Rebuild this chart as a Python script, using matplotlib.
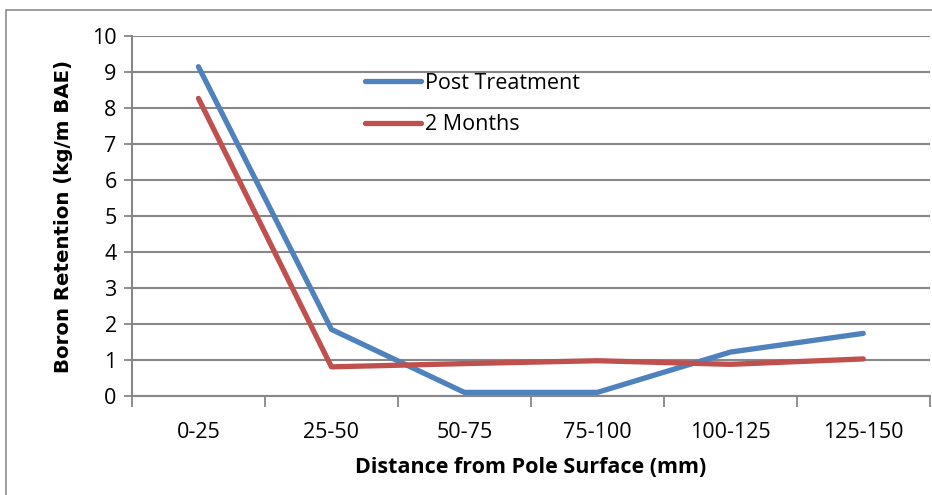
import matplotlib
matplotlib.use('Agg')
import matplotlib.pyplot as plt
from matplotlib.patches import Rectangle

categories = ['0-25', '25-50', '50-75', '75-100', '100-125', '125-150']
post_treatment = [9.15, 1.85, 0.1, 0.1, 1.22, 1.74]
two_months = [8.27, 0.81, 0.9, 0.98, 0.88, 1.03]

blue = '#4F81BD'
red = '#C0504D'
grey = '#878787'

fig = plt.figure(figsize=(9.32, 4.95), dpi=100)
ax = fig.add_axes([0.1416, 0.2, 0.856, 0.727])

# outer chart frame
fig.patches.append(Rectangle((6 / 932, -0.1), 1.2, 1.08, transform=fig.transFigure,
                             fill=False, edgecolor='#8c8c8c', linewidth=1.2))

x = list(range(len(categories)))
ax.plot(x, post_treatment, color=blue, lw=3.8, solid_capstyle='round', label='Post Treatment')
ax.plot(x, two_months, color=red, lw=3.8, solid_capstyle='round', label='2 Months')

ax.set_xlim(-0.5, 5.5)
ax.set_ylim(0, 10)
ax.set_yticks(range(0, 11))
ax.set_xticks(x)
ax.set_xticklabels(categories)
ax.set_xticks([i - 0.5 for i in range(7)], minor=True)
ax.tick_params(axis='x', which='major', length=0, pad=19, labelsize=15.5)
ax.tick_params(axis='x', which='minor', length=8, width=1.3, color=grey, direction='out')
ax.tick_params(axis='y', length=6, width=1.3, color=grey, labelsize=15.5, pad=5)
for lab in ax.get_xticklabels() + ax.get_yticklabels():
    lab.set_fontfamily('Open Sans')

ax.grid(axis='y', color=grey, lw=1.5)
ax.set_axisbelow(True)
for s in ['top', 'right']:
    ax.spines[s].set_visible(False)
for s in ['left', 'bottom']:
    ax.spines[s].set_color(grey)
    ax.spines[s].set_linewidth(1.5)

ax.set_ylabel('Boron Retention (kg/m BAE)', fontsize=14.2, fontweight='bold',
              family='DejaVu Sans', labelpad=14)
ax.set_xlabel('Distance from Pole Surface (mm)', fontsize=15.5, fontweight='bold',
              family='Open Sans', labelpad=10)

leg = ax.legend(loc='upper left', bbox_to_anchor=(0.268, 0.952), frameon=False,
                prop={'family': 'Open Sans', 'size': 15.5}, handlelength=2.6,
                handletextpad=0.2, labelspacing=0.95)

fig.savefig('out.png', dpi=100)
